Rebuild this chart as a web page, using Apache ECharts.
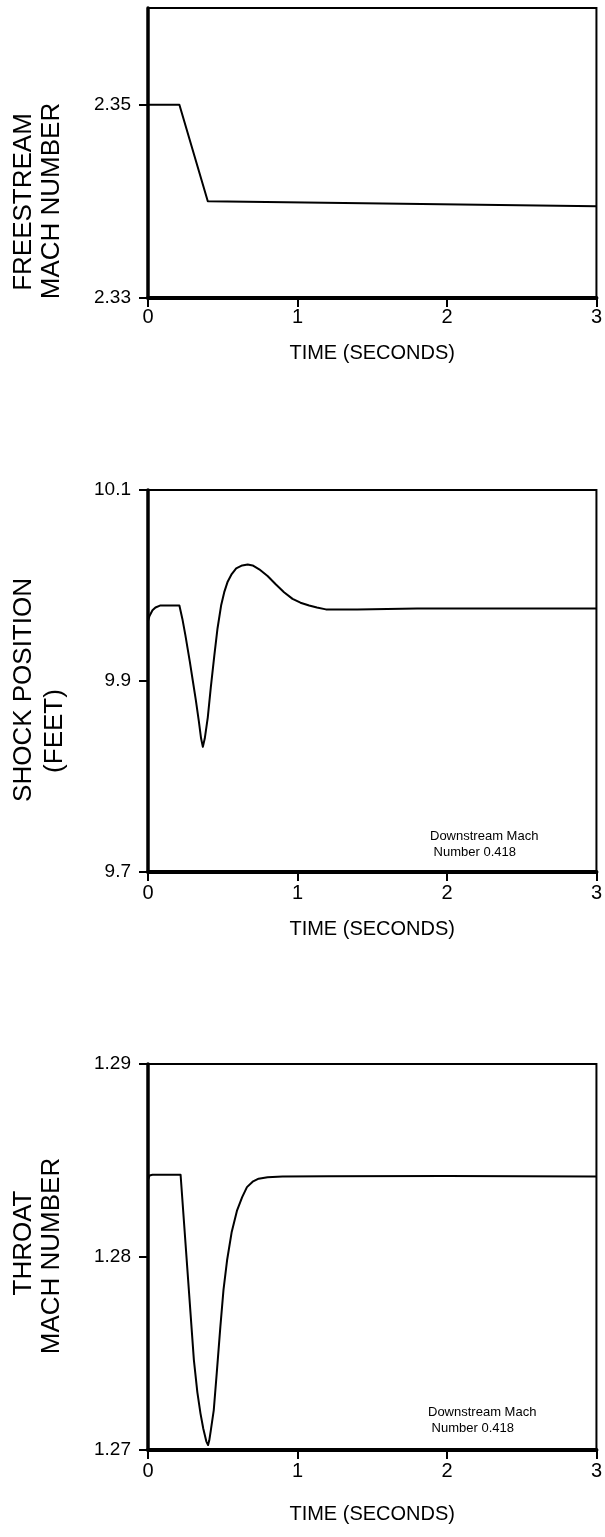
<!DOCTYPE html>
<html>
<head>
<meta charset="utf-8">
<script src="https://cdn.jsdelivr.net/npm/echarts@6/dist/echarts.min.js"></script>
<style>
html,body{margin:0;padding:0;background:#fff;}
#chart{width:605px;height:1537px;}
</style>
</head>
<body>
<div id="chart"></div>
<script>
// ---- Data ----
const xTicks = [0, 1, 2, 3];

const freestreamTime = [0, 0.21, 0.40, 3.0];
const freestreamMach = [2.35, 2.35, 2.340, 2.3395];
const freestreamTicks = [2.33, 2.35];

const shockTime = [0, 0.01, 0.03, 0.05, 0.08, 0.21, 0.23, 0.25, 0.28, 0.30, 0.32, 0.34, 0.355, 0.367, 0.38, 0.40, 0.42, 0.444, 0.465, 0.489, 0.51, 0.533, 0.56, 0.59, 0.63, 0.667, 0.70, 0.744, 0.80, 0.856, 0.91, 0.967, 1.02, 1.078, 1.13, 1.19, 1.4, 1.8, 2.5, 3.0];
const shockPos = [9.963, 9.968, 9.974, 9.977, 9.979, 9.979, 9.965, 9.948, 9.920, 9.900, 9.880, 9.858, 9.840, 9.831, 9.840, 9.862, 9.893, 9.927, 9.955, 9.979, 9.993, 10.004, 10.012, 10.018, 10.021, 10.022, 10.021, 10.017, 10.010, 10.001, 9.993, 9.986, 9.982, 9.979, 9.977, 9.975, 9.975, 9.976, 9.976, 9.976];
const shockTicks = [9.7, 9.9, 10.1];

const throatTime = [0, 0.01, 0.03, 0.218, 0.307, 0.33, 0.351, 0.37, 0.39, 0.402, 0.41, 0.42, 0.44, 0.46, 0.484, 0.505, 0.529, 0.56, 0.596, 0.63, 0.662, 0.70, 0.74, 0.80, 0.9, 1.2, 2.0, 3.0];
const throatMach = [1.2840, 1.28422, 1.28426, 1.28426, 1.27466, 1.2730, 1.2719, 1.2711, 1.27045, 1.27026, 1.27050, 1.27100, 1.27207, 1.2740, 1.27638, 1.2783, 1.27983, 1.2813, 1.28242, 1.2831, 1.28362, 1.2839, 1.28406, 1.28413, 1.28417, 1.28419, 1.28420, 1.28417];
const throatTicks = [1.27, 1.28, 1.29];

const xName = 'TIME (SECONDS)';
const yNames = [['FREESTREAM', 'MACH NUMBER'], ['SHOCK POSITION', '(FEET)'], ['THROAT', 'MACH NUMBER']];
const noteLines = ['Downstream Mach', ' Number 0.418'];

// ---- Chart ----
const FONT = '"Liberation Sans", Arial, Helvetica, sans-serif';
const chart = echarts.init(document.getElementById('chart'), null, {renderer: 'canvas'});

const grids = [
  {left: 148, width: 449, top: 8, height: 290},
  {left: 148, width: 449, top: 490, height: 382},
  {left: 148, width: 449, top: 1064, height: 386}
].map(g => Object.assign(g, {show: true, borderColor: '#000', borderWidth: 2, backgroundColor: 'transparent'}));

function xAxisFor(i, labelMargin, nameGap) {
  return {
    type: 'value', gridIndex: i, min: 0, max: 3, interval: 1,
    axisLine: {show: true, onZero: false, lineStyle: {color: '#000', width: 4}},
    axisTick: {show: true, inside: false, length: 9, lineStyle: {color: '#000', width: 2}},
    axisLabel: {color: '#000', fontSize: 20, fontFamily: FONT, margin: labelMargin,
      formatter: v => xTicks.includes(v) ? String(v) : ''},
    splitLine: {show: false},
    name: xName, nameLocation: 'middle', nameGap: nameGap,
    nameTextStyle: {color: '#000', fontSize: 20, fontFamily: FONT}
  };
}
function yAxisFor(i, min, max, ticks, dec) {
  return {
    type: 'value', gridIndex: i, min: min, max: max,
    axisLine: {show: true, onZero: false, lineStyle: {color: '#000', width: 3.5}},
    axisTick: {show: true, inside: false, length: 9, customValues: ticks, lineStyle: {color: '#000', width: 2}},
    axisLabel: {color: '#000', fontSize: 19, fontFamily: FONT, margin: 17, customValues: ticks,
      formatter: v => Number(v).toFixed(dec)},
    splitLine: {show: false}
  };
}
function lineSeries(i, t, v) {
  return {
    type: 'line', xAxisIndex: i, yAxisIndex: i,
    data: t.map((x, k) => [x, v[k]]),
    showSymbol: false, symbol: 'none', smooth: false,
    lineStyle: {color: '#000', width: 2, join: 'round'}, silent: true, animation: false
  };
}
function yNameText(x, y, text) {
  return {type: 'text', x: x, y: y, rotation: Math.PI / 2,
    style: {text: text, fill: '#000', font: '26px ' + FONT, align: 'center', verticalAlign: 'middle'}};
}
function noteText(x, y, text) {
  return {type: 'text', x: x, y: y,
    style: {text: text, fill: '#000', font: '13px ' + FONT, align: 'left', verticalAlign: 'middle'}};
}

chart.setOption({
  animation: false,
  backgroundColor: '#fff',
  grid: grids,
  xAxis: [xAxisFor(0, 9, 45), xAxisFor(1, 11, 47), xAxisFor(2, 11, 54)],
  yAxis: [
    yAxisFor(0, 2.33, 2.36, freestreamTicks, 2),
    yAxisFor(1, 9.7, 10.1, shockTicks, 1),
    yAxisFor(2, 1.27, 1.29, throatTicks, 2)
  ],
  series: [
    lineSeries(0, freestreamTime, freestreamMach),
    lineSeries(1, shockTime, shockPos),
    lineSeries(2, throatTime, throatMach)
  ],
  graphic: [
    yNameText(24, 202, yNames[0][0]), yNameText(52, 201, yNames[0][1]),
    yNameText(24, 690, yNames[1][0]), yNameText(55, 731, yNames[1][1]),
    yNameText(24, 1243, yNames[2][0]), yNameText(52, 1256, yNames[2][1]),
    noteText(430, 836, noteLines[0]), noteText(430, 852, noteLines[1]),
    noteText(428, 1412, noteLines[0]), noteText(428, 1428, noteLines[1])
  ]
});
</script>
</body>
</html>
